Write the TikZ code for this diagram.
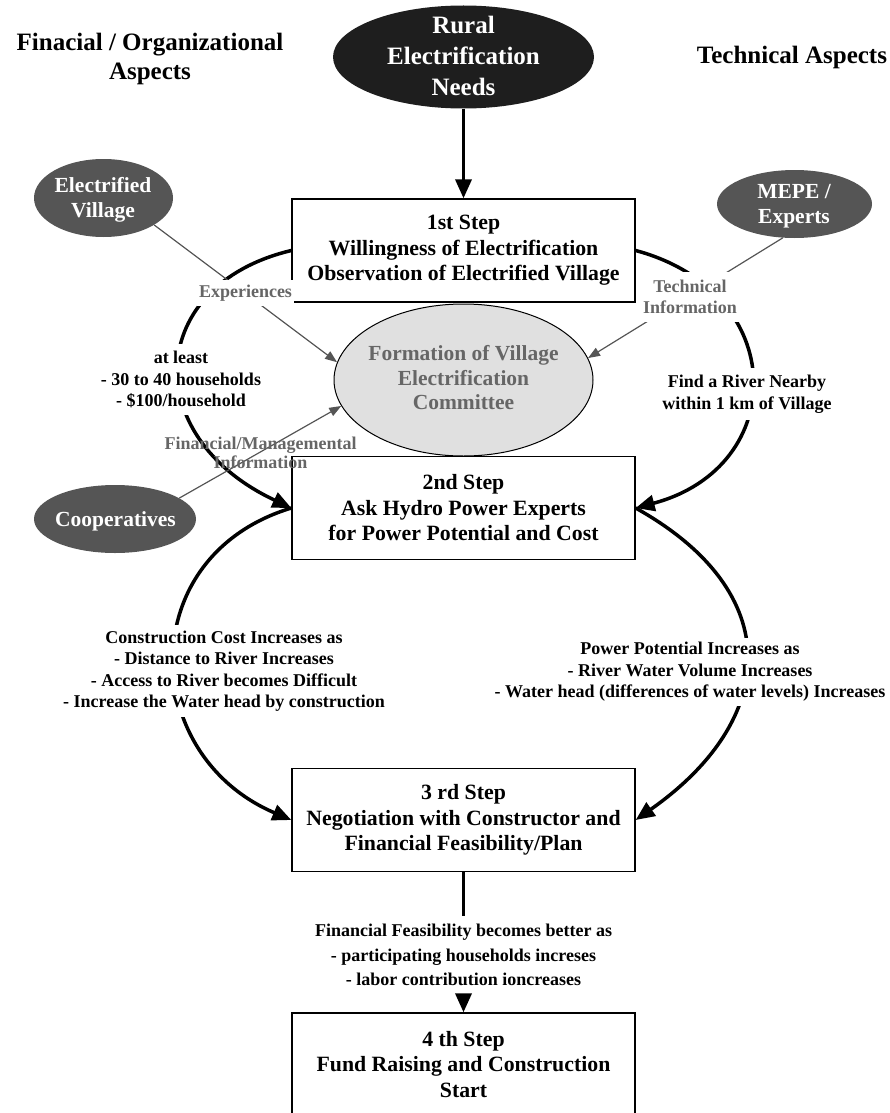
\documentclass[tikz,border=0pt]{standalone}
\usepackage{fontspec}
\setmainfont{Liberation Serif}
\usetikzlibrary{arrows.meta,shapes.geometric}
\newcommand{\titlefnt}{\fontsize{25}{29.5}\selectfont\bfseries}
\newcommand{\rurfnt}{\fontsize{25}{30.8}\selectfont\bfseries}
\newcommand{\boxfnt}{\fontsize{21.8}{25.5}\selectfont\bfseries}
\newcommand{\ellfnt}{\fontsize{21.5}{25}\selectfont\bfseries}
\newcommand{\labfnt}{\fontsize{18}{21.5}\selectfont\bfseries}
\definecolor{ellDark}{HTML}{555555}
\definecolor{ellBlack}{HTML}{1E1E1E}
\definecolor{ellLight}{HTML}{E0E0E0}
\definecolor{txtGray}{HTML}{666666}
\definecolor{lineGray}{HTML}{555555}
\begin{document}
\begin{tikzpicture}[x=1pt,y=1pt,
  stepbox/.style={draw, line width=1.3pt, minimum width=343pt, minimum height=103pt,
    inner sep=0pt, align=center, font=\boxfnt, fill=white},
  darkell/.style={ellipse, fill=ellDark, inner sep=0pt},
  blackell/.style={ellipse, fill=ellBlack, inner sep=0pt, minimum width=261pt, minimum height=103pt},
  lightell/.style={ellipse, draw, line width=1pt, fill=ellLight, inner sep=0pt, minimum width=259pt, minimum height=152pt},
  whitetext/.style={text=white, font=\ellfnt, align=center, inner sep=0pt},
  graytext/.style={text=txtGray, font={\fontsize{21.5}{24.5}\selectfont\bfseries}, align=center, inner sep=0pt},
  lab/.style={font=\labfnt, align=center, fill=white, inner xsep=2pt},
  thickarr/.style={line width=3.5pt, -{Triangle[length=19pt,width=16pt]}},
  thickline/.style={line width=3.5pt},
  grayarr/.style={draw=lineGray, line width=1.2pt, -{Triangle[length=12pt,width=9pt]}, fill=none}
]
\useasboundingbox (0,0) rectangle (890,-1113);

% titles
\node[font=\titlefnt, align=center] (tl) at (150,-59) {Finacial / Organizational\\Aspects};
\node[font=\titlefnt] (tr) at (792,-57.3) {Technical Aspects};

% ellipses
\node[blackell] (rural) at (463.5,-57) {};
\node[whitetext, font=\rurfnt] (ruralt) at (463.5,-55.7) {Rural\\Electrification\\Needs};
\node[darkell, minimum width=139pt, minimum height=78pt] (ev) at (103.5,-198) {};
\node[whitetext] (evt) at (103,-199.5) {Electrified\\Village};
\node[darkell, minimum width=155pt, minimum height=68pt] (mepe) at (794.5,-204) {};
\node[whitetext] (mepet) at (794,-206.5) {MEPE /\\Experts};
\node[darkell, minimum width=162pt, minimum height=68pt] (coop) at (115,-519) {};
\node[whitetext] (coopt) at (115.5,-521) {Cooperatives};
\node[lightell] (form) at (463.5,-380) {};
\node[graytext] (formt) at (463.5,-378) {Formation of Village\\Electrification\\Committee};

% step boxes
\node[stepbox] (box1) at (463.5,-250.5) {1st Step\\Willingness of Electrification\\Observation of Electrified Village};
\node[stepbox] (box2) at (463.5,-508) {2nd Step\\Ask Hydro Power Experts\\for Power Potential and Cost};
\node[stepbox] (box3) at (463.5,-820) {3 rd Step\\Negotiation with Constructor and\\Financial Feasibility/Plan};
\node[stepbox] (box4) at (463.5,-1064.5) {4 th Step\\Fund Raising and Construction\\Start};

% label between step 3 and 4
\node[font={\fontsize{18}{24.5}\selectfont\bfseries}, align=center, inner xsep=2pt, inner ysep=8pt] (ff) at (463.5,-955)
  {Financial Feasibility becomes better as\\- participating households increses\\- labor contribution ioncreases};

% connectors
\draw[thickarr] (rural) -- (box1);
\draw[thickarr] (box1.west) .. controls (146,-285) and (138,-436) .. (box2.west);
\draw[thickarr] (box1.east) .. controls (790,-292) and (790,-467) .. (box2.east);
\draw[thickarr] (box2.west) .. controls (133,-556) and (139,-755) .. (box3.west);
\draw[thickarr] (box2.east) .. controls (788,-593) and (778,-720) .. (box3.east);
\draw[thickline] (box3) -- (ff);
\draw[thickarr] (ff) -- (box4);
\draw[grayarr] (ev.-28) -- (form.172);
\draw[grayarr] (mepe.251) -- (form.10);
\draw[grayarr] (coop.18) -- (form.192);

% labels on connectors
\node[lab, text=txtGray, inner ysep=5pt] (exp) at (245.5,-293) {Experiences};
\node[lab, text=txtGray, inner ysep=8pt] (tech) at (690,-297) {Technical\\Information};
\node[lab, inner ysep=7pt] (least) at (181,-379.5) {at least\\- 30 to 40 households\\- \$100/household};
\node[lab, inner ysep=7pt] (river) at (747,-394) {Find a River Nearby\\within 1 km of Village};
\node[font={\fontsize{18}{19}\selectfont\bfseries}, align=center, text=txtGray, inner sep=0pt] (fin) at (260.5,-453) {Financial/Managemental\\Information};
\node[lab, inner ysep=6pt] (cost) at (224,-671) {Construction Cost Increases as\\- Distance to River Increases\\- Access to River becomes Difficult\\- Increase the Water head by construction};
\node[lab, inner ysep=4pt] (power) at (690,-672) {Power Potential Increases as\\- River Water Volume Increases\\- Water head (differences of water levels) Increases};
\end{tikzpicture}
\end{document}
